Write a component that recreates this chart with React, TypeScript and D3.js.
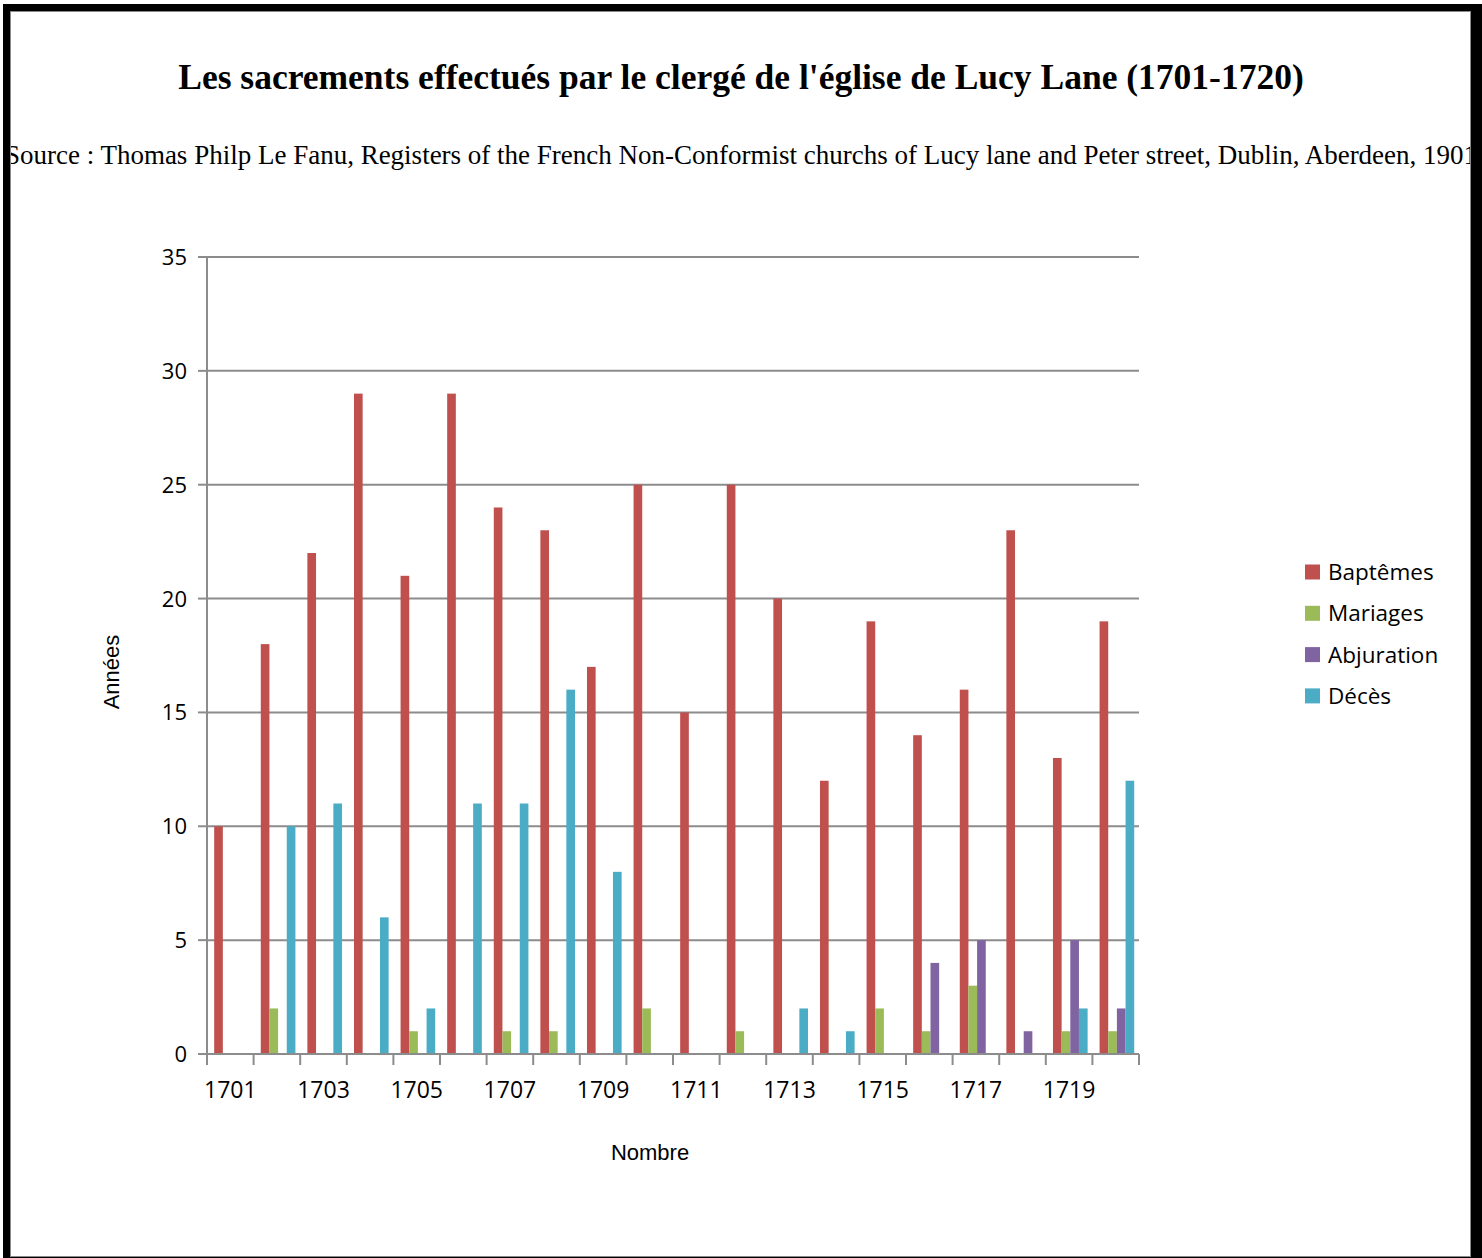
import React, { useRef, useEffect } from 'react';
import * as d3 from 'd3';

const years = [
  '1701', '1702', '1703', '1704', '1705', '1706', '1707', '1708', '1709', '1710',
  '1711', '1712', '1713', '1714', '1715', '1716', '1717', '1718', '1719', '1720',
];
const baptemes = [10, 18, 22, 29, 21, 29, 24, 23, 17, 25, 15, 25, 20, 12, 19, 14, 16, 23, 13, 19];
const mariages = [0, 2, 0, 0, 1, 0, 1, 1, 0, 2, 0, 1, 0, 0, 2, 1, 3, 0, 1, 1];
const abjuration = [0, 0, 0, 0, 0, 0, 0, 0, 0, 0, 0, 0, 0, 0, 0, 4, 5, 1, 5, 2];
const deces = [0, 10, 11, 6, 2, 11, 11, 16, 8, 0, 0, 0, 2, 1, 0, 0, 0, 0, 2, 12];
const seriesNames = ['Baptêmes', 'Mariages', 'Abjuration', 'Décès'];
const seriesColors = ['#C0504D', '#9BBB59', '#8064A2', '#4BACC6'];
const yTicks = [0, 5, 10, 15, 20, 25, 30, 35];

const title = "Les sacrements effectués par le clergé de l'église de Lucy Lane (1701-1720)";
const source = 'Source : Thomas Philp Le Fanu, Registers of the French Non-Conformist churchs of Lucy lane and Peter street, Dublin, Aberdeen, 1901';

export default function App() {
  const svgRef = useRef<SVGSVGElement>(null);
  const width = 1482;
  const height = 1258;

  useEffect(() => {
    if (!svgRef.current) return;
    const svg = d3.select(svgRef.current);
    svg.selectAll('*').remove();

    // frame
    svg.append('rect').attr('x', 3).attr('y', 4).attr('width', 1479).attr('height', 1260).attr('fill', '#000');
    svg.append('rect')
      .attr('x', 10.5).attr('y', 11.5).attr('width', 1460).attr('height', 1245)
      .attr('fill', '#fff').attr('stroke', '#8a8a8a').attr('stroke-width', 1);

    svg.append('clipPath').attr('id', 'inner')
      .append('rect').attr('x', 11).attr('y', 12).attr('width', 1459).attr('height', 1244);

    const texts = svg.append('g').attr('clip-path', 'url(#inner)');
    texts.append('text')
      .attr('x', 741).attr('y', 89)
      .attr('text-anchor', 'middle')
      .style('font-family', '"Liberation Serif", "Times New Roman", serif')
      .style('font-weight', 'bold')
      .style('font-size', '35.5px')
      .text(title);
    texts.append('text')
      .attr('x', 741).attr('y', 164)
      .attr('text-anchor', 'middle')
      .style('font-family', '"Liberation Serif", "Times New Roman", serif')
      .style('font-size', '27px')
      .text(source);

    const margin = { left: 207, top: 257, right: 1139, bottom: 1054 };

    const x0 = d3.scaleBand<string>().domain(years).range([margin.left, margin.right]).padding(0);
    const x1 = d3.scaleBand<string>().domain(seriesNames).range([0, x0.bandwidth()])
      .paddingInner(0).paddingOuter(0.69).align(0.6);
    const y = d3.scaleLinear().domain([0, 35]).range([margin.bottom, margin.top]);

    const gridColor = '#8c8c8c';

    // grid lines
    svg.append('g')
      .selectAll('line')
      .data(yTicks.filter(t => t > 0))
      .enter().append('line')
      .attr('x1', margin.left).attr('x2', margin.right)
      .attr('y1', d => y(d)).attr('y2', d => y(d))
      .attr('stroke', gridColor).attr('stroke-width', 2);

    // bars
    const allSeries = [baptemes, mariages, abjuration, deces];
    const bars = svg.append('g');
    allSeries.forEach((vals, si) => {
      bars.selectAll(`.bar-${si}`)
        .data(vals)
        .enter().append('rect')
        .attr('class', `bar-${si}`)
        .attr('x', (_, i) => (x0(years[i]) as number) + (x1(seriesNames[si]) as number))
        .attr('y', d => y(d))
        .attr('width', x1.bandwidth())
        .attr('height', d => y(0) - y(d))
        .attr('fill', seriesColors[si]);
    });

    // y axis
    const yAxis = svg.append('g');
    yAxis.append('line')
      .attr('x1', margin.left).attr('x2', margin.left)
      .attr('y1', margin.top).attr('y2', margin.bottom)
      .attr('stroke', gridColor).attr('stroke-width', 2);
    yAxis.selectAll('.ytick')
      .data(yTicks)
      .enter().append('line')
      .attr('x1', margin.left - 9).attr('x2', margin.left)
      .attr('y1', d => y(d)).attr('y2', d => y(d))
      .attr('stroke', gridColor).attr('stroke-width', 2);
    yAxis.selectAll('.ylabel')
      .data(yTicks)
      .enter().append('text')
      .attr('x', margin.left - 20)
      .attr('y', d => y(d) + 8)
      .attr('text-anchor', 'end')
      .style('font-family', '"Open Sans", sans-serif')
      .style('font-size', '22px')
      .attr('fill', '#000')
      .text(d => String(d));

    // x axis
    const xAxis = svg.append('g');
    xAxis.append('line')
      .attr('x1', margin.left).attr('x2', margin.right)
      .attr('y1', margin.bottom).attr('y2', margin.bottom)
      .attr('stroke', gridColor).attr('stroke-width', 2);
    const boundaries = years.map(yr => x0(yr) as number).concat([margin.right]);
    xAxis.selectAll('.xtick')
      .data(boundaries)
      .enter().append('line')
      .attr('x1', d => d).attr('x2', d => d)
      .attr('y1', margin.bottom).attr('y2', margin.bottom + 11)
      .attr('stroke', gridColor).attr('stroke-width', 2);
    xAxis.selectAll('.xlabel')
      .data(years.filter((_, i) => i % 2 === 0))
      .enter().append('text')
      .attr('x', d => (x0(d) as number) + x0.bandwidth() / 2)
      .attr('y', 1098)
      .attr('text-anchor', 'middle')
      .style('font-family', '"Open Sans", sans-serif')
      .style('font-size', '23px')
      .attr('fill', '#000')
      .text(d => d);

    // axis titles
    svg.append('text')
      .attr('transform', 'translate(119,672) rotate(-90)')
      .attr('text-anchor', 'middle')
      .style('font-family', '"Liberation Sans", Arial, sans-serif')
      .style('font-size', '22px')
      .text('Années');
    svg.append('text')
      .attr('x', 650).attr('y', 1160)
      .attr('text-anchor', 'middle')
      .style('font-family', '"Liberation Sans", Arial, sans-serif')
      .style('font-size', '22px')
      .text('Nombre');

    // legend
    const legend = svg.append('g');
    seriesNames.forEach((name, i) => {
      const ly = 572 + i * 41.3;
      legend.append('rect')
        .attr('x', 1305).attr('y', ly - 7.5)
        .attr('width', 15).attr('height', 15)
        .attr('fill', seriesColors[i]);
      legend.append('text')
        .attr('x', 1328).attr('y', ly + 8)
        .style('font-family', '"Open Sans", sans-serif')
        .style('font-size', '22.5px')
        .text(name);
    });
  }, []);

  return (
    <svg
      ref={svgRef}
      width={width}
      height={height}
      style={{ position: 'absolute', left: 0, top: 0, background: '#fff' }}
    />
  );
}
